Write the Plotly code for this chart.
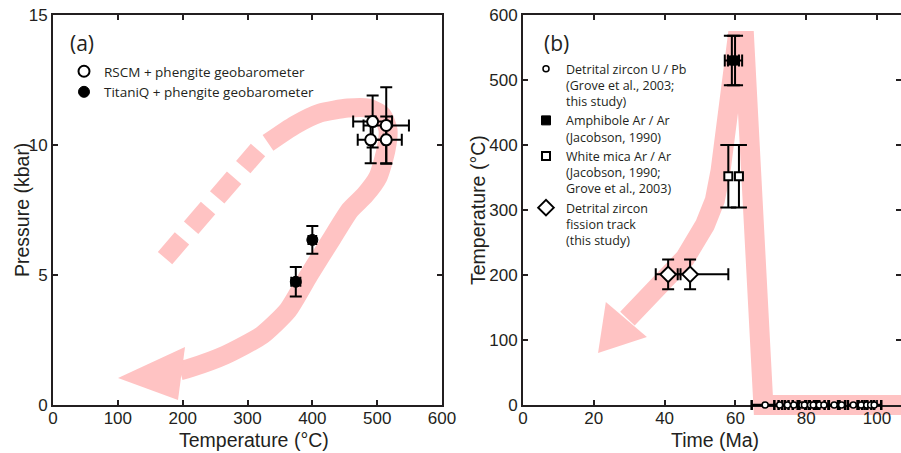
import plotly.graph_objects as go

# ---------------- Panel (a) data: P-T estimates ----------------
rscm_T = [493, 514, 490, 514]
rscm_P = [10.9, 10.75, 10.2, 10.2]
rscm_Terr = [30, 35, 20, 24]
rscm_Perr = [1.0, 1.47, 0.9, 0.9]

tq_T = [400, 374.5]
tq_P = [6.35, 4.74]
tq_Terr = [6, 7]
tq_Perr = [0.53, 0.57]

# schematic P-T path (a) (Temperature °C, Pressure kbar)
path_a_dash_T = [172.8, 316.2]
path_a_dash_P = [5.65, 9.81]
path_a_T = [331.6, 373.3, 411.9, 455.0, 485.9, 507.5, 516.7, 513.6, 501.3, 481.3,
            458.1, 428.8, 394.9, 362.5, 322.4, 265.3, 211.3, 195.9]
path_a_P = [10.08, 10.77, 11.23, 11.42, 11.42, 11.15, 10.58, 9.81, 8.77, 8.08,
            7.5, 6.35, 5.0, 3.65, 2.69, 1.92, 1.42, 1.31]
head_a_T = [100.3, 203.6, 192.8]
head_a_P = [1.04, 2.23, 0.19]

# ---------------- Panel (b) data: T-t history ----------------
uPb_t = [68.4, 72.5, 74.7, 76.5, 78.8, 79.5, 81.2, 82.0, 83.7, 85.0,
         87.9, 90.0, 93.3, 95.5, 97.1, 98.2, 99.2]
uPb_T = [0] * len(uPb_t)
uPb_terr = [3.8, 1.5, 1.5, 1.5, 1.2, 1.5, 1.5, 1.2, 1.5, 1.3,
            1.5, 1.0, 1.5, 1.0, 1.3, 1.0, 2.0]

amph_t = [59.0, 59.9]
amph_T = [530, 530]
amph_terr = [2.0, 2.0]
amph_Terr = [38, 38]

wm_t = [58.0, 61.0]
wm_T = [352, 352]
wm_terr = [0.8, 0.8]
wm_Terr = [48, 48]

ft_t = [41.0, 47.2]
ft_T = [201, 201]
ft_terr_plus = [3.5, 10.8]
ft_terr_minus = [3.5, 3.5]
ft_Terr = [23, 23]

# schematic T-t path (b) (time Ma, temperature °C)
path_b_t = [29.5, 38.7, 45.8, 51.4, 54.2, 55.8, 57.3, 58.9, 60.5,
            62.5, 63.6, 65.0, 67.9, 115]
path_b_T = [133, 185, 226, 277, 315, 360, 423, 500, 560,
            560, 423, 238, 0, 0]
head_b_t = [21.2, 35.0, 23.4]
head_b_T = [80, 104.6, 158.5]

# ---------------- figure ----------------
PINK = "#ffc3c3"
INK = "#231f20"
W, H = 901, 453
OFF = 0            # body margin removed via post_script below
MT, MB = 0, 20
PH = H - MT - MB   # plot-area height in figure pixels


def px(sx):
    """window x pixel -> paper x fraction"""
    return (sx - OFF) / W


def py(sy):
    """window y pixel -> paper y fraction"""
    return 1 - (sy - OFF - MT) / PH


fig = go.Figure()

# ---- panel (a)
fig.add_trace(go.Scatter(x=path_a_dash_T, y=path_a_dash_P, mode="lines",
                         line=dict(color=PINK, width=19, dash="26px,14px"),
                         showlegend=False, hoverinfo="skip", xaxis="x", yaxis="y"))
fig.add_trace(go.Scatter(x=path_a_T, y=path_a_P, mode="lines",
                         line=dict(color=PINK, width=19, shape="spline", smoothing=0.6),
                         showlegend=False, hoverinfo="skip", xaxis="x", yaxis="y"))
fig.add_trace(go.Scatter(x=head_a_T, y=head_a_P, mode="lines", fill="toself",
                         fillcolor=PINK, line=dict(width=0, color=PINK),
                         showlegend=False, hoverinfo="skip", xaxis="x", yaxis="y"))
fig.add_trace(go.Scatter(
    x=rscm_T, y=rscm_P, mode="markers", name="RSCM + phengite geobarometer",
    marker=dict(symbol="circle", size=11, color="white", line=dict(color="black", width=2)),
    error_x=dict(type="data", array=rscm_Terr, color="black", thickness=2, width=6),
    error_y=dict(type="data", array=rscm_Perr, color="black", thickness=2, width=6),
    xaxis="x", yaxis="y", legend="legend"))
fig.add_trace(go.Scatter(
    x=tq_T, y=tq_P, mode="markers", name="TitaniQ + phengite geobarometer",
    marker=dict(symbol="circle", size=11, color="black", line=dict(color="black", width=1)),
    error_x=dict(type="data", array=tq_Terr, color="black", thickness=2, width=5),
    error_y=dict(type="data", array=tq_Perr, color="black", thickness=2, width=6),
    xaxis="x", yaxis="y", legend="legend"))

# ---- panel (b): pink path in an (invisible) extended subplot
fig.add_trace(go.Scatter(x=path_b_t, y=path_b_T, mode="lines",
                         line=dict(color=PINK, width=20),
                         showlegend=False, hoverinfo="skip", xaxis="x2", yaxis="y2"))
fig.add_trace(go.Scatter(x=head_b_t, y=head_b_T, mode="lines", fill="toself",
                         fillcolor=PINK, line=dict(width=0, color=PINK),
                         showlegend=False, hoverinfo="skip", xaxis="x2", yaxis="y2"))

# ---- panel (b): frame subplot (empty trace just registers the subplot)
fig.add_trace(go.Scatter(x=[], y=[], mode="markers", showlegend=False,
                         hoverinfo="skip", xaxis="x3", yaxis="y3"))

# ---- panel (b): markers (subplot x4/y4, drawn above frame x3/y3)
fig.add_trace(go.Scatter(
    x=uPb_t, y=uPb_T, mode="markers",
    name="Detrital zircon U / Pb<br>(Grove et al., 2003;<br>this study)",
    marker=dict(symbol="circle", size=6, color="white", line=dict(color="black", width=1.5)),
    error_x=dict(type="data", array=uPb_terr, color="black", thickness=2.5, width=5),
    xaxis="x4", yaxis="y4", legend="legend2", legendgroup="g1", cliponaxis=False))
fig.add_trace(go.Scatter(
    x=amph_t, y=amph_T, mode="markers",
    name="Amphibole Ar / Ar<br>(Jacobson, 1990)",
    marker=dict(symbol="square", size=9, color="black", line=dict(color="black", width=1)),
    error_x=dict(type="data", array=amph_terr, color="black", thickness=2, width=6),
    error_y=dict(type="data", array=amph_Terr, color="black", thickness=2, width=8),
    xaxis="x4", yaxis="y4", legend="legend2", legendgroup="g2", cliponaxis=False))
fig.add_trace(go.Scatter(
    x=wm_t, y=wm_T, mode="markers",
    name="White mica Ar / Ar<br>(Jacobson, 1990;<br>Grove et al., 2003)",
    marker=dict(symbol="square", size=8, color="white", line=dict(color="black", width=2)),
    error_x=dict(type="data", array=wm_terr, color="black", thickness=2, width=4),
    error_y=dict(type="data", array=wm_Terr, color="black", thickness=2, width=8),
    xaxis="x4", yaxis="y4", legend="legend2", legendgroup="g3", cliponaxis=False))
fig.add_trace(go.Scatter(
    x=ft_t, y=ft_T, mode="markers",
    name="Detrital zircon<br>fission track<br>(this study)",
    marker=dict(symbol="diamond", size=12, color="white", line=dict(color="black", width=2)),
    error_x=dict(type="data", array=ft_terr_plus, arrayminus=ft_terr_minus,
                 color="black", thickness=2, width=6),
    error_y=dict(type="data", array=ft_Terr, color="black", thickness=2, width=6),
    xaxis="x4", yaxis="y4", legend="legend2", legendgroup="g4", cliponaxis=False))

tickfont = dict(family="Liberation Sans, Arial", size=17, color=INK)
titlefont = dict(family="Liberation Sans, Arial", size=19.5, color=INK)

xa_dom = [px(53), px(442)]
xb_dom = [px(523), 1.0]
frame_dom = [py(405), py(15)]
ext_dom = [py(420), py(15)]
b_xmax = (W + OFF - 523) / 3.54
b_ymin = -(420 - 405) / 0.65

common = dict(showline=True, linecolor=INK, linewidth=2, mirror="ticks",
              ticks="inside", ticklen=5, tickwidth=1.5, tickcolor=INK,
              showgrid=False, zeroline=False, tickfont=tickfont, automargin=False,
              ticklabeloverflow="allow")
hidden = dict(visible=False, automargin=False, showgrid=False, zeroline=False)


def title_ann(text, sx, sy, angle=0, font=titlefont):
    return dict(text=text, x=px(sx), y=py(sy), xref="paper", yref="paper",
                showarrow=False, textangle=angle, font=font,
                xanchor="center", yanchor="middle")


panel_font = dict(family="Open Sans", size=21, color=INK)

fig.update_layout(
    width=W, height=H, margin=dict(l=0, r=0, t=MT, b=MB, autoexpand=False),
    paper_bgcolor="white", plot_bgcolor="rgba(0,0,0,0)",
    xaxis=dict(domain=xa_dom, range=[0, 600], tickvals=[0, 100, 200, 300, 400, 500, 600],
               anchor="y", ticklabelstandoff=-3, **common),
    yaxis=dict(domain=frame_dom, range=[0, 15], tickvals=[0, 5, 10, 15],
               anchor="x", **common),
    xaxis2=dict(domain=xb_dom, range=[0, b_xmax], anchor="y2", **hidden),
    yaxis2=dict(domain=ext_dom, range=[b_ymin, 600], anchor="x2", **hidden),
    xaxis3=dict(domain=xb_dom, range=[0, b_xmax], tickvals=[0, 20, 40, 60, 80, 100],
                anchor="y3", layer="below traces", ticklabelstandoff=-3, **common),
    yaxis3=dict(domain=frame_dom, range=[0, 600], tickvals=[0, 100, 200, 300, 400, 500, 600],
                anchor="x3", layer="below traces", **common),
    xaxis4=dict(domain=xb_dom, range=[0, b_xmax], anchor="y4", **hidden),
    yaxis4=dict(domain=ext_dom, range=[b_ymin, 600], anchor="x4", **hidden),
    legend=dict(x=px(64), y=py(56), xanchor="left", yanchor="top",
                bgcolor="rgba(0,0,0,0)", borderwidth=0, tracegroupgap=0,
                font=dict(family="Open Sans", size=13.5, color=INK), valign="top"),
    legend2=dict(x=px(526), y=py(54), xanchor="left", yanchor="top",
                 bgcolor="rgba(0,0,0,0)", borderwidth=0, tracegroupgap=0,
                 font=dict(family="Open Sans", size=12.5, color=INK), valign="top"),
    annotations=[
        title_ann("(a)", 82, 43, font=panel_font),
        title_ann("(b)", 556, 43, font=panel_font),
        title_ann("Temperature (°C)", 254, 440),
        title_ann("Pressure (kbar)", 22, 210, -90),
        title_ann("Time (Ma)", 715, 440),
        title_ann("Temperature (°C)", 478, 210, -90),
    ],
)

fig.write_html("out.html",
               config={"displayModeBar": False},
               post_script="document.body.style.margin='0px';"
                           "document.body.style.overflow='hidden';")
